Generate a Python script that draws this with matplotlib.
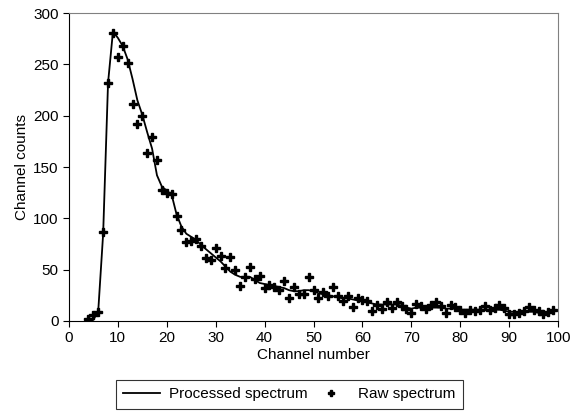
import matplotlib
matplotlib.use("Agg")
import matplotlib.pyplot as plt
import numpy as np

plt.rcParams["font.family"] = ["Liberation Sans", "DejaVu Sans"]

# ---------- DATA ----------
channels = np.arange(4, 100)

raw = [2, 6, 9, 87, 232, 281, 257, 268, 251, 211, 192, 200, 164, 179, 157, 128,
       125, 124, 102, 89, 77, 78, 80, 73, 61, 59, 71, 63, 52, 62, 50, 34,
       43, 53, 41, 44, 32, 35, 33, 30, 39, 22, 33, 26, 26, 43, 30, 22,
       28, 24, 33, 24, 19, 24, 14, 22, 20, 19, 10, 16, 12, 18, 13, 18,
       15, 12, 8, 17, 15, 12, 16, 18, 15, 8, 16, 14, 11, 8, 11, 10,
       11, 15, 11, 13, 16, 13, 7, 7, 8, 10, 14, 11, 10, 7, 9, 11]

processed = [3, 1, 10, 85, 232, 282, 276, 268, 255, 236, 215, 201, 184, 168, 142, 131,
             127, 123, 104, 92, 85, 82, 79, 74, 70, 66, 62, 58, 53, 48, 45, 43,
             43, 43, 40, 37, 36, 35, 34, 33, 32, 30, 29, 29, 30, 30, 29, 27,
             26, 25, 24, 23, 22, 22, 21, 20, 19, 18, 17, 16, 16, 16, 16, 16,
             15, 13, 12, 13, 13, 13, 13, 13, 13, 12, 12, 12, 11, 11, 11, 11,
             11, 11, 11, 11, 11, 10, 9, 9, 9, 9, 9, 9, 8, 8, 8, 8]

# ---------- PLOT ----------
fig = plt.figure(figsize=(5.79, 4.12), dpi=100)
ax = fig.add_axes([0.119, 0.221, 0.845, 0.747])

ax.plot(channels, processed, color="black", lw=1.3, label="Processed spectrum")
ax.plot(channels, raw, ls="none", marker="P", ms=6, color="black",
        label="Raw spectrum")

ax.set_xlim(0, 100)
ax.set_ylim(0, 300)
ax.set_xticks(np.arange(0, 101, 10))
ax.set_yticks(np.arange(0, 301, 50))
ax.tick_params(direction="out", length=4, labelsize=11, top=False, right=False)

for side in ["top", "right"]:
    ax.spines[side].set_color("#808080")
ax.spines["left"].set_color("black")
ax.spines["bottom"].set_color("black")

ax.set_xlabel("Channel number", fontsize=11, labelpad=2)
ax.set_ylabel("Channel counts", fontsize=11, labelpad=3)

leg = fig.legend(loc="lower center", bbox_to_anchor=(0.5, 0.007), ncol=2,
                 fontsize=11, frameon=True, fancybox=False, edgecolor="black",
                 handlelength=2.4, handletextpad=0.6, columnspacing=0.3,
                 borderpad=0.5, borderaxespad=0, markerscale=0.7)
leg.get_frame().set_linewidth(0.8)

fig.savefig("out.png", dpi=100)
